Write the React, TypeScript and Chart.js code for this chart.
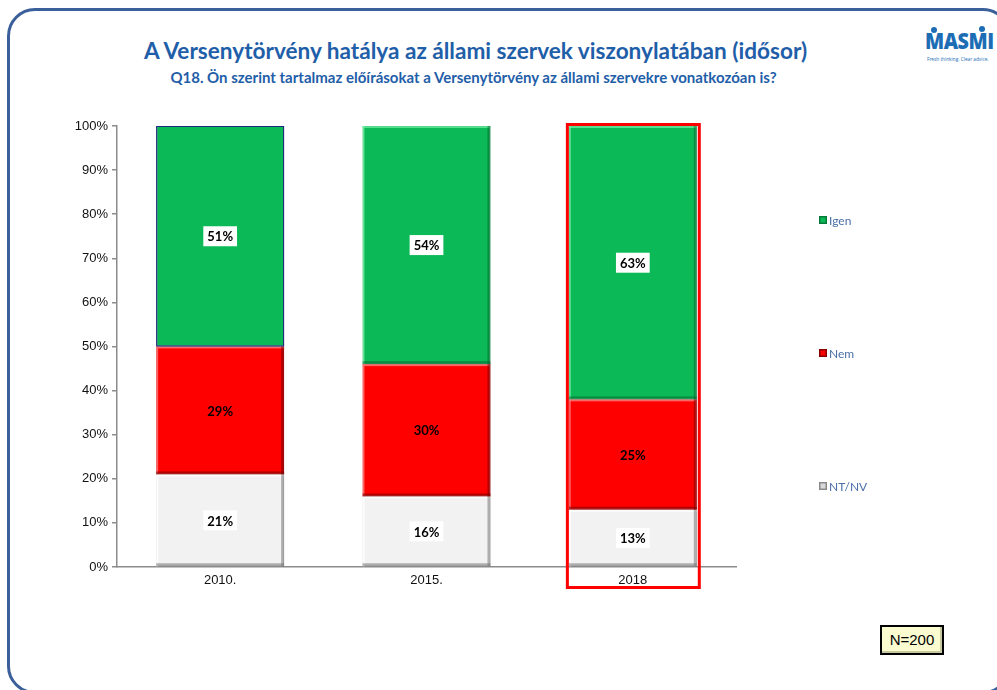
import React, { useEffect, useRef } from "react";
import { Chart, registerables } from "chart.js";
Chart.register(...registerables);

const categories = ["2010.", "2015.", "2018"];
const ntnvValues = [21, 16, 13];
const nemValues = [29, 30, 25];
const igenValues = [51, 54, 63];
const seriesNames = ["NT/NV", "Nem", "Igen"];
const titleText = "A Versenytörvény hatálya az állami szervek viszonylatában (idősor)";
const subtitleText = "Q18. Ön szerint tartalmaz előírásokat a Versenytörvény az állami szervekre vonatkozóan is?";
const sampleText = "N=200";
const highlightIndex = 2;

const GREEN = "#0bb957";
const RED = "#ff0000";
const GREY = "#f2f2f2";

function shade(ctx: CanvasRenderingContext2D, l: number, t: number, r: number, b: number, light: string, dark: string) {
  ctx.save();
  ctx.fillStyle = light;
  ctx.fillRect(l, t, r - l, 2);
  ctx.fillRect(l, t, 2, b - t);
  ctx.fillStyle = dark;
  ctx.fillRect(r - 3, t, 3, b - t);
  ctx.fillRect(l, b - 3, r - l, 3);
  ctx.restore();
}

const decorPlugin = {
  id: "decor",
  afterDatasetsDraw(chart: any) {
    const ctx: CanvasRenderingContext2D = chart.ctx;
    const area = chart.chartArea;
    const styles = [
      { light: "rgba(255,255,255,0.9)", dark: "rgba(120,120,120,0.55)", box: true },
      { light: "rgba(255,120,120,0.7)", dark: "rgba(120,0,0,0.55)", box: false },
      { light: "rgba(120,240,170,0.7)", dark: "rgba(0,90,40,0.45)", box: true },
    ];
    chart.data.datasets.forEach((ds: any, di: number) => {
      const meta = chart.getDatasetMeta(di);
      meta.data.forEach((bar: any, i: number) => {
        const p = bar.getProps(["x", "y", "base", "width"], true);
        const top = Math.max(Math.min(p.y, p.base), area.top);
        const bottom = Math.max(p.y, p.base);
        const l = p.x - p.width / 2;
        const r = p.x + p.width / 2;
        if (di === 2 && i === 0) {
          ctx.save();
          ctx.strokeStyle = "#1f2a80";
          ctx.lineWidth = 1;
          ctx.strokeRect(l + 0.5, top + 0.5, r - l - 1, bottom - top - 1);
          ctx.restore();
        } else {
          shade(ctx, l, top, r, bottom, styles[di].light, styles[di].dark);
        }
        const cy = (top + bottom) / 2;
        const text = ds.data[i] + "%";
        ctx.save();
        ctx.font = "bold 13px Lato, 'Noto Sans', sans-serif";
        const w = ctx.measureText(text).width;
        if (styles[di].box) {
          ctx.fillStyle = "#ffffff";
          ctx.fillRect(p.x - w / 2 - 4, cy - 10, w + 8, 20);
        }
        ctx.fillStyle = "#000000";
        ctx.textAlign = "center";
        ctx.textBaseline = "middle";
        ctx.fillText(text, p.x, cy + 1);
        ctx.restore();
      });
    });
  },
  afterDraw(chart: any) {
    const ctx: CanvasRenderingContext2D = chart.ctx;
    const area = chart.chartArea;
    const meta = chart.getDatasetMeta(0);
    const bar = meta.data[highlightIndex];
    if (bar) {
      const p = bar.getProps(["x", "width"], true);
      const top = chart.scales.y.getPixelForValue(100);
      ctx.save();
      ctx.strokeStyle = "#ff0000";
      ctx.lineWidth = 3;
      ctx.strokeRect(p.x - p.width / 2 - 1.5, top - 1.5, p.width + 4, area.bottom - top + 22);
      ctx.restore();
    }
    const legendItems = [
      { name: seriesNames[2], color: GREEN, dark: "#067a38", dy: 94 },
      { name: seriesNames[1], color: RED, dark: "#8a0000", dy: 227 },
      { name: seriesNames[0], color: "#d9d9d9", dark: "#8a8a8a", dy: 360 },
    ];
    const lx = area.right + 83;
    legendItems.forEach((it) => {
      const y = area.top + it.dy;
      ctx.save();
      ctx.fillStyle = it.dark;
      ctx.fillRect(lx, y - 4, 8, 8);
      ctx.fillStyle = it.color;
      ctx.fillRect(lx + 1.5, y - 2.5, 5, 5);
      ctx.fillStyle = "#4a6ea8";
      ctx.font = "12px Lato, 'Noto Sans', sans-serif";
      ctx.textBaseline = "middle";
      ctx.textAlign = "left";
      ctx.fillText(it.name, lx + 10, y + 1);
      ctx.restore();
    });
  },
};

export default function App() {
  const ref = useRef<HTMLCanvasElement>(null);
  useEffect(() => {
    if (!ref.current) return;
    const chart = new Chart(ref.current, {
      type: "bar",
      data: {
        labels: categories,
        datasets: [
          { label: seriesNames[0], data: ntnvValues, backgroundColor: GREY, borderColor: "#bdbdbd", borderWidth: 1, borderSkipped: false },
          { label: seriesNames[1], data: nemValues, backgroundColor: RED, borderColor: "#c00000", borderWidth: 1, borderSkipped: false },
          { label: seriesNames[2], data: igenValues, backgroundColor: GREEN, borderColor: ["#1f2a80", "#08a04b", "#08a04b"], borderWidth: 1, borderSkipped: false },
        ],
      },
      options: {
        animation: false,
        responsive: false,
        maintainAspectRatio: false,
        layout: { padding: { left: 57, top: 126, right: 261, bottom: 93 } },
        datasets: { bar: { barPercentage: 0.62, categoryPercentage: 1 } },
        plugins: { legend: { display: false }, title: { display: false }, tooltip: { enabled: false } },
        scales: {
          x: {
            stacked: true,
            afterFit: (s: any) => { s.height = 30; },
            grid: { display: false, drawTicks: false },
            border: { display: true, color: "#8c8c8c", width: 1.5 },
            ticks: { color: "#111", font: { family: "'Liberation Sans', Arial, sans-serif", size: 13 }, padding: 6 },
          },
          y: {
            stacked: true,
            min: 0,
            max: 100,
            afterFit: (s: any) => { s.width = 60; },
            grid: { drawOnChartArea: false, drawTicks: true, tickLength: 5, color: "#8c8c8c", lineWidth: 1.5 },
            border: { display: true, color: "#8c8c8c", width: 1.5 },
            ticks: { stepSize: 10, color: "#111", font: { family: "'Liberation Sans', Arial, sans-serif", size: 13 }, padding: 4, callback: (v: any) => v + "%" },
          },
        },
      },
      plugins: [decorPlugin],
    });
    return () => chart.destroy();
  }, []);

  const dot = (left: number, top: number) => (
    <div style={{ position: "absolute", left, top, width: 6, height: 6, borderRadius: 3, background: "#1d6db5" }} />
  );

  return (
    <div style={{ position: "fixed", left: 0, top: 0, width: 997, height: 690, background: "#fff", overflow: "hidden" }}>
      <div style={{ position: "absolute", left: 7, top: 8, width: 1004, height: 686, border: "3px solid #3b5f9a", borderRadius: 28, boxSizing: "border-box" }} />
      <div style={{ position: "absolute", left: 0, width: 951, top: 37, textAlign: "center", color: "#1f5ea8", fontFamily: "Lato, 'Noto Sans', sans-serif", fontWeight: 700, fontSize: 22.6, lineHeight: "28px" }}>{titleText}</div>
      <div style={{ position: "absolute", left: 0, width: 947, top: 67, textAlign: "center", color: "#1f5ea8", fontFamily: "Lato, 'Noto Sans', sans-serif", fontWeight: 700, fontSize: 15, lineHeight: "20px" }}>{subtitleText}</div>
      {dot(931, 27)}
      {dot(979, 26)}
      <div style={{ position: "absolute", left: 925, top: 29, color: "#1d6db5", fontFamily: "'Open Sans', 'Noto Sans', sans-serif", fontWeight: 800, fontSize: 22, lineHeight: "23px", letterSpacing: -0.5, transform: "scaleX(0.9)", transformOrigin: "left top", whiteSpace: "nowrap" }}>MASMI</div>
      <div style={{ position: "absolute", left: 927, top: 56, color: "#1d6db5", fontFamily: "'Open Sans', sans-serif", fontSize: 5.5, lineHeight: "6px", whiteSpace: "nowrap", transform: "scaleX(0.86)", transformOrigin: "left top" }}>Fresh thinking. Clear advice.</div>
      <canvas ref={ref} width={997} height={690} style={{ position: "absolute", left: 0, top: 0, width: 997, height: 690 }} />
      <div style={{ position: "absolute", left: 880, top: 625, width: 64, height: 30, boxSizing: "border-box", background: "#fbfbd0", border: "2px solid #000", boxShadow: "inset -2px -2px 0 #c8c8a0", fontFamily: "'Liberation Sans', Arial, sans-serif", fontSize: 15, lineHeight: "26px", textAlign: "center", color: "#000" }}>{sampleText}</div>
    </div>
  );
}
